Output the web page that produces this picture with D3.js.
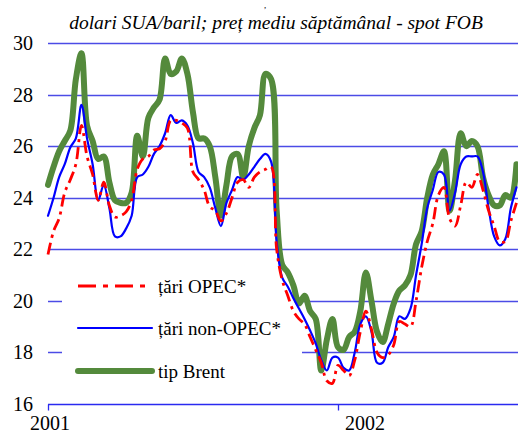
<!DOCTYPE html>
<html>
<head>
<meta charset="utf-8">
<script src="https://cdn.jsdelivr.net/npm/d3@7/dist/d3.min.js"></script>
<style>
  html, body { margin: 0; padding: 0; background: #fff; }
  svg { display: block; }
  svg text { font-family: "Liberation Serif", "Times New Roman", "DejaVu Serif", serif; }
</style>
</head>
<body>
<svg id="chart" width="518" height="434"></svg>
<script>
// ---- data (weekly averages, Jan 2001 – Aug 2002) ----
const title = "dolari SUA/baril; preț mediu săptămânal - spot FOB";
const seriesNames = ["țări OPEC*", "țări non-OPEC*", "tip Brent"];
const yTicks = [16, 18, 20, 22, 24, 26, 28, 30];
const yearLabels = ["2001", "2002"];
const yearWeeks = [0, 52];

const opec = [21.8,22.7,23.2,24.2,24.7,25.3,26.8,25.6,24.9,23.9,24.6,23.7,23.25,23.3,23.45,23.9,25.1,25.5,25.6,25.85,
  25.9,26.2,27.0,27.0,26.9,26.7,25.0,24.7,24.3,23.65,23.5,23.1,23.4,24.0,24.6,24.7,24.4,24.8,25.0,25.1,
  25.2,22.0,20.8,20.2,19.6,19.3,19.1,18.6,18.1,17.6,16.9,16.8,17.5,17.3,17.1,17.7,18.8,19.6,18.9,18.0,
  17.8,17.9,18.3,19.2,19.1,19.0,20.0,21.3,22.3,23.0,24.1,24.4,23.2,22.9,23.7,24.6,24.4,24.9,24.3,23.5,
  22.9,22.3,22.3,23.1,23.8];
const nonOpec = [23.3,24.0,24.8,25.3,25.95,26.3,27.6,26.3,25.3,23.9,24.5,23.6,22.5,22.5,22.8,23.3,24.8,24.9,25.2,25.7,
  26.0,26.5,27.2,26.9,27.0,26.8,26.1,25.0,24.8,24.4,23.6,22.9,23.8,24.3,24.8,24.7,24.9,25.2,25.5,25.7,
  25.4,22.3,20.9,20.55,20.1,19.7,19.3,18.85,18.35,17.7,17.3,17.8,17.8,17.4,17.3,18.0,19.1,19.4,18.8,17.6,
  17.6,18.2,18.6,19.4,19.3,19.7,21.0,22.2,23.6,24.3,25.0,24.9,23.5,24.2,25.3,25.6,25.6,25.6,25.0,23.6,
  22.5,22.15,22.4,23.6,24.4];
const brent = [24.5,25.2,25.8,26.2,26.6,28.6,29.6,26.8,26.2,25.5,25.6,24.6,23.9,23.8,23.8,24.2,26.4,25.6,27.1,27.5,
  27.8,29.4,28.8,28.9,29.4,28.8,27.3,26.3,26.3,26.0,24.8,23.3,24.5,25.6,25.7,24.8,26.0,26.7,27.2,28.8,
  28.6,23.5,21.4,21.1,20.6,19.9,20.2,19.6,19.3,17.3,18.5,19.3,18.2,18.1,18.6,18.8,19.6,21.1,20.0,18.8,
  18.4,19.1,19.9,20.4,20.6,21.0,22.2,22.7,24.0,24.9,25.3,25.8,23.5,24.7,26.5,26.0,26.2,26.0,24.8,24.1,
  23.7,23.7,24.1,24.0,25.3];
const weeks = d3.range(opec.length);

// ---- layout ----
const svg = d3.select("#chart");
const x = d3.scaleLinear().domain([0, 52]).range([48, 338]);
const y = d3.scaleLinear().domain([16, 30]).range([404, 43]);
const gridColor = "#4b4be6";

// title (and the tail of the cropped heading above)
svg.append("text").attr("x", 265).attr("y", 8).attr("text-anchor", "middle")
  .style("font-size", "9px").text(",");
svg.append("text").attr("x", 276).attr("y", 29).attr("text-anchor", "middle")
  .style("font-size", "19.5px").style("font-style", "italic").text(title);

// gridlines
svg.append("g").selectAll("line").data(yTicks).join("line")
  .attr("x1", x(0)).attr("x2", 518)
  .attr("y1", d => Math.round(y(d)) + 0.5).attr("y2", d => Math.round(y(d)) + 0.5)
  .attr("stroke", d => d === 16 ? "#2a2af0" : gridColor).attr("stroke-width", 1.3);

// y labels
svg.append("g").selectAll("text").data(yTicks).join("text")
  .attr("x", 33).attr("y", d => y(d)).attr("dy", "0.35em")
  .attr("text-anchor", "end").style("font-size", "20px").text(d => d);

// x axis ticks
const xAxis = d3.axisBottom(x).tickValues(yearWeeks).tickSize(6).tickFormat("");
const gx = svg.append("g").attr("transform", `translate(0,${Math.round(y(16)) + 0.5})`).call(xAxis);
gx.select(".domain").remove();
gx.selectAll(".tick line").attr("stroke", "#2a2af0").attr("stroke-width", 1.3);
svg.append("g").selectAll("text").data(yearWeeks).join("text")
  .attr("x", (d, i) => x(d) + (i === 0 ? 2 : 27)).attr("y", 430)
  .attr("text-anchor", "middle").style("font-size", "20px")
  .text((d, i) => yearLabels[i]);

// legend background
svg.append("rect").attr("x", 62).attr("y", 262).attr("width", 240).attr("height", 130)
  .attr("fill", "#fff");

// lines
const styles = [
  { data: opec, color: "#ff0000", width: 2.8, dash: "12,5,3,5" },
  { data: nonOpec, color: "#0000ff", width: 2.2, dash: null },
  { data: brent, color: "#548a3c", width: 6, dash: null }
];
const line = d3.line().x((d, i) => x(weeks[i])).y(d => y(d)).curve(d3.curveCatmullRom.alpha(0.5));
const drawOrder = [2, 1, 0];
drawOrder.forEach(k => {
  const s = styles[k];
  svg.append("path").datum(s.data).attr("d", line)
    .attr("fill", "none").attr("stroke", s.color).attr("stroke-width", s.width)
    .attr("stroke-dasharray", s.dash).attr("stroke-linejoin", "round").attr("stroke-linecap", s.dash ? "butt" : "round");
});

// legend
const legY = [286, 328, 371];
styles.forEach((s, i) => {
  svg.append("line").attr("x1", 78).attr("x2", 152).attr("y1", legY[i]).attr("y2", legY[i])
    .attr("stroke", s.color).attr("stroke-width", s.width)
    .attr("stroke-dasharray", s.dash ? "18,7,5,7" : null)
    .attr("stroke-linecap", s.dash ? "butt" : "round");
  svg.append("text").attr("x", 158).attr("y", legY[i] + 6.5)
    .style("font-size", "19px").text(seriesNames[i]);
});
</script>
</body>
</html>
